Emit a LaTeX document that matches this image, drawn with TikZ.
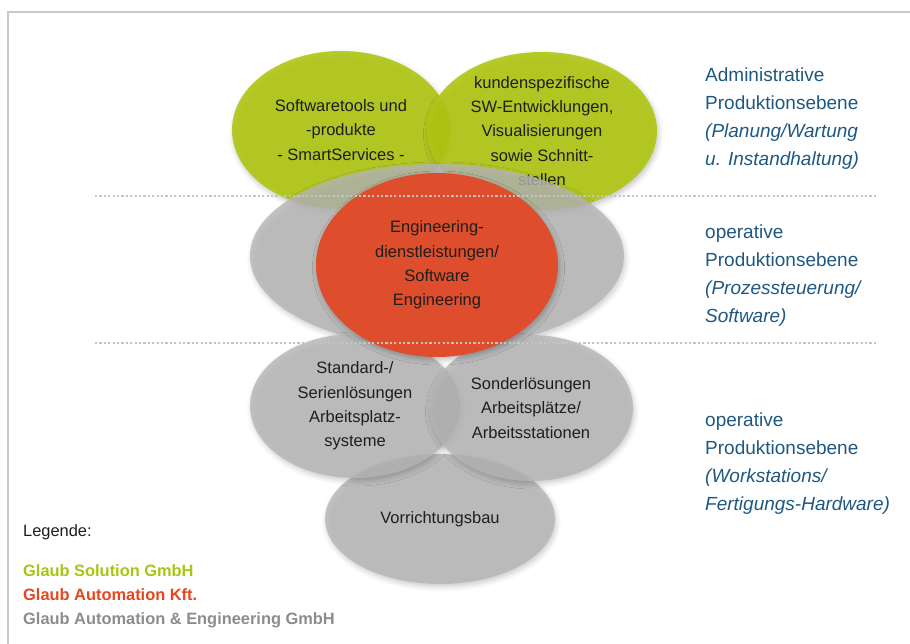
\documentclass[tikz,border=0pt]{standalone}
\usepackage{fontspec}
\setmainfont{Liberation Sans}
\usetikzlibrary{shapes.geometric,shadows.blur}

\definecolor{glaubgreen}{RGB}{176,199,18}
\definecolor{glaubred}{RGB}{222,78,44}
\definecolor{glaubgray}{RGB}{182,182,182}
\definecolor{inktext}{RGB}{30,30,30}
\definecolor{leveltext}{RGB}{30,88,130}
\definecolor{framegray}{RGB}{200,200,200}
\definecolor{sepgray}{RGB}{196,196,196}
\definecolor{legendgreen}{RGB}{170,196,20}
\definecolor{legendred}{RGB}{228,70,30}
\definecolor{legendgray}{RGB}{140,140,140}

\tikzset{
  bubble/.style={ellipse, inner sep=0pt, draw=none,
    blur shadow={shadow xshift=1.5pt, shadow yshift=-3pt,
                 shadow blur radius=5pt, shadow opacity=25}},
  greenbubble/.style={bubble, fill=glaubgreen, fill opacity=0.9},
  graybubble/.style={bubble, fill=glaubgray, fill opacity=0.8},
  redbubble/.style={bubble, fill=glaubred},
  bubbletext/.style={inner sep=0pt, align=center, text=inktext,
    font=\fontsize{16.5}{24.3}\selectfont},
  leveltextstyle/.style={inner sep=0pt, anchor=north west, align=left,
    text=leveltext, font=\fontsize{19}{28}\selectfont},
  legendtext/.style={inner sep=0pt, anchor=base west,
    font=\fontsize{16.4}{24}\selectfont},
  frameline/.style={draw=framegray, line width=1.6pt},
  separator/.style={draw=sepgray, line width=2.4pt,
    dash pattern=on 2.2pt off 2.2pt},
}

\begin{document}
\begin{tikzpicture}[x=1pt,y=-1pt]
  \useasboundingbox (0,0) rectangle (910,644);

  % frame (only the top and left edges lie inside the page)
  \draw[frameline] (8,644) -- (8,12) -- (910,12);

  % administrative level: Glaub Solution
  \node[greenbubble, minimum width=218pt, minimum height=158pt] (tools) at (341,130) {};
  \node[greenbubble, minimum width=230pt, minimum height=158pt] (custom) at (542,131) {};
  \node[bubbletext] (toolstext) at (tools.center) {Softwaretools und\\-produkte\\- SmartServices -};
  \node[bubbletext] (customtext) at (custom.center) {kundenspezifische\\SW-Entwicklungen,\\Visualisierungen\\sowie Schnitt-\\stellen};

  % operative level: software
  \node[graybubble, minimum width=374pt, minimum height=184pt] (opsw) at (437,256) {};

  % operative level: hardware
  \node[graybubble, minimum width=230pt, minimum height=130pt] (fixture) at (440,519) {};
  \node[graybubble, minimum width=210pt, minimum height=144pt] (standard) at (355,406) {};
  \node[graybubble, minimum width=204pt, minimum height=146pt] (special) at (531,408) {};
  \node[bubbletext] (standardtext) at (standard.center) {Standard-/\\Serienlösungen\\Arbeitsplatz-\\systeme};
  \node[bubbletext] (specialtext) at (special.center) {Sonderlösungen\\Arbeitsplätze/\\Arbeitsstationen};
  \node[bubbletext] (fixturetext) at (fixture.center) {Vorrichtungsbau};

  % engineering services: Glaub Automation Kft.
  \node[redbubble, minimum width=242pt, minimum height=184pt] (eng) at (437,265) {};
  \node[bubbletext] (engtext) at (eng.center) {Engineering-\\dienstleistungen/\\Software\\Engineering};

  % level separators
  \coordinate (sepAleft) at (95,196);
  \coordinate (sepAright) at (878,196);
  \coordinate (sepBleft) at (95,343);
  \coordinate (sepBright) at (878,343);
  \draw[separator] (sepAleft) -- (sepAright);
  \draw[separator] (sepBleft) -- (sepBright);

  % level descriptions
  \node[leveltextstyle] (lvladmin) at (705,68)
    {Administrative\\Produktionsebene\\\textit{(Planung/Wartung}\\\textit{u. Instandhaltung)}};
  \node[leveltextstyle] (lvlsoft) at (705,225)
    {operative\\Produktionsebene\\\textit{(Prozessteuerung/}\\\textit{Software)}};
  \node[leveltextstyle] (lvlhard) at (705,413)
    {operative\\Produktionsebene\\\textit{(Workstations/}\\\textit{Fertigungs-Hardware)}};

  % legend
  \node[legendtext, text=inktext] (legend) at (23,536) {Legende:};
  \node[legendtext, text=legendgreen, font=\fontsize{16.4}{24}\selectfont\bfseries] (legsol) at (23,576) {Glaub Solution GmbH};
  \node[legendtext, text=legendred, font=\fontsize{16.4}{24}\selectfont\bfseries] (legkft) at (23,600) {Glaub Automation Kft.};
  \node[legendtext, text=legendgray, font=\fontsize{16.4}{24}\selectfont\bfseries] (legae) at (23,624) {Glaub Automation \& Engineering GmbH};
\end{tikzpicture}
\end{document}
